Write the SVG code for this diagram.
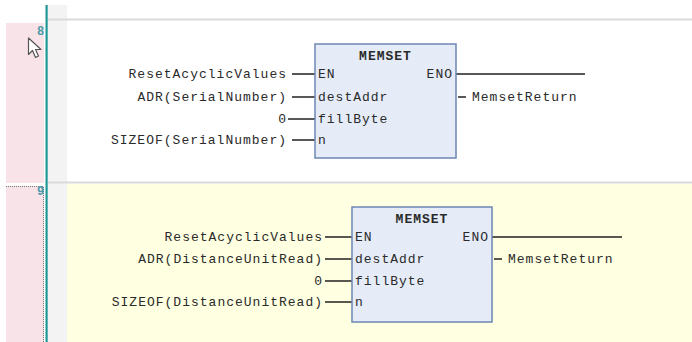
<svg xmlns="http://www.w3.org/2000/svg" width="692" height="342" viewBox="0 0 692 342">
<style>
.t{font-family:"Liberation Mono","DejaVu Sans Mono",monospace;font-size:13px;letter-spacing:1px;fill:#2a2a2a}
.r{text-anchor:end}
.b{font-weight:bold;text-anchor:middle}
.box{fill:#e5ecf8;stroke:#6d86b4;stroke-width:1.5}
.w{stroke:#222;stroke-width:1.3;fill:none}
.num{font-family:"Liberation Sans",Arial,sans-serif;font-size:12px;fill:#4a9aa8;text-anchor:end;font-weight:bold}
</style>
<rect width="692" height="342" fill="#ffffff"/>
<!-- left gutter -->
<rect x="6" y="23" width="38" height="160" fill="#f8e3e9"/>
<rect x="6" y="186" width="38" height="156" fill="#f8e3e9"/>
<path d="M6 186.5H43.5V342" fill="none" stroke="#777" stroke-width="1" stroke-dasharray="1,1"/>
<rect x="48" y="5" width="19" height="337" fill="#f3f3f3"/>
<rect x="45.5" y="5" width="2.2" height="337" fill="#1f9696"/>
<rect x="67" y="184" width="625" height="158" fill="#ffffe1"/>
<line x1="48" y1="19.5" x2="692" y2="19.5" stroke="#dadada" stroke-width="2"/>
<line x1="48" y1="182.5" x2="692" y2="182.5" stroke="#dadada" stroke-width="2"/>
<text class="num" x="44" y="35">8</text>
<text class="num" x="44" y="195">9</text>
<path d="M28.5 38V54.5L32.5 50.5L35.5 57.5L38.5 56L35.5 49.5H41Z" fill="#fff" stroke="#555" stroke-width="1.2" stroke-linejoin="round"/>

<g id="connectors">
<path class="w" d="M292 74H315M292 97H315M288 119H315M292 140H315M456 74H585M458 97H466"/>
<path class="w" d="M325 237H352M325 259H352M325 281H352M325 302H352M492 237H622M494 259H502"/>
</g>

<g id="memset1">
<rect class="box" x="315" y="44" width="141" height="114"/>
<text class="t b" x="385.5" y="60">MEMSET</text>
<text class="t" x="318" y="78">EN</text>
<text class="t r" x="453" y="78">ENO</text>
<text class="t" x="318" y="101">destAddr</text>
<text class="t" x="318" y="123">fillByte</text>
<text class="t" x="318" y="144">n</text>
</g>
<g id="inputs1">
<text class="t r" x="287" y="78">ResetAcyclicValues</text>
<text class="t r" x="287" y="101">ADR(SerialNumber)</text>
<text class="t r" x="287" y="123">0</text>
<text class="t r" x="287" y="144">SIZEOF(SerialNumber)</text>
<text class="t" x="472" y="101">MemsetReturn</text>
</g>

<g id="memset2">
<rect class="box" x="352" y="207" width="140" height="115"/>
<text class="t b" x="422" y="223">MEMSET</text>
<text class="t" x="355" y="241">EN</text>
<text class="t r" x="489" y="241">ENO</text>
<text class="t" x="355" y="263">destAddr</text>
<text class="t" x="355" y="285">fillByte</text>
<text class="t" x="355" y="306">n</text>
</g>
<g id="inputs2">
<text class="t r" x="323" y="241">ResetAcyclicValues</text>
<text class="t r" x="323" y="263">ADR(DistanceUnitRead)</text>
<text class="t r" x="323" y="285">0</text>
<text class="t r" x="323" y="306">SIZEOF(DistanceUnitRead)</text>
<text class="t" x="508" y="263">MemsetReturn</text>
</g>
</svg>
